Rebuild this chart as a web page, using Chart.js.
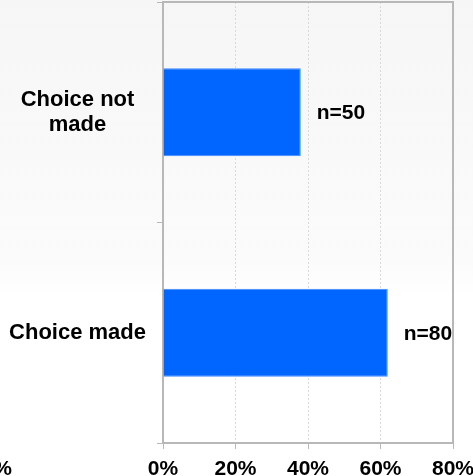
<!DOCTYPE html>
<html>
<head>
<meta charset="utf-8">
<script src="https://cdn.jsdelivr.net/npm/chart.js@4/dist/chart.umd.min.js"></script>
<style>
  html, body { margin: 0; padding: 0; background: #ffffff; }
  #wrap { width: 473px; height: 476px; position: relative; }
</style>
</head>
<body>
<div id="wrap"><canvas id="c" width="473" height="476"></canvas></div>
<script>
// ---- data ----
const categories = [['Choice not', 'made'], 'Choice made'];
const shares = [38, 62];            // percent of respondents
const sampleLabels = ['n=50', 'n=80'];
const xTicks = [0, 20, 40, 60, 80];
const strayText = '%';

const FONT = "'Liberation Sans', Arial, sans-serif";

const bgPlugin = {
  id: 'bg',
  beforeDraw(chart) {
    const ctx = chart.ctx;
    const g = ctx.createLinearGradient(0, 0, 0, chart.height);
    g.addColorStop(0, '#f6f6f6');
    g.addColorStop(0.55, '#fbfbfb');
    g.addColorStop(0.62, '#ffffff');
    g.addColorStop(1, '#ffffff');
    ctx.save();
    ctx.fillStyle = g;
    ctx.fillRect(0, 0, chart.width, chart.height);
    ctx.restore();
  }
};

const framePlugin = {
  id: 'frame',
  afterDraw(chart) {
    const { ctx, chartArea: a } = chart;
    ctx.save();
    ctx.strokeStyle = '#b8b8b8';
    ctx.lineWidth = 2;
    ctx.beginPath();
    ctx.moveTo(a.left, a.top);
    ctx.lineTo(a.right, a.top);
    ctx.lineTo(a.right, a.bottom);
    ctx.stroke();
    // stray cut-off label at the bottom left
    ctx.fillStyle = '#000';
    ctx.font = 'bold 21px ' + FONT;
    ctx.textAlign = 'right';
    ctx.textBaseline = 'alphabetic';
    ctx.fillText(strayText, 12, 475);
    ctx.restore();
  }
};

const labelPlugin = {
  id: 'nlabels',
  afterDatasetsDraw(chart) {
    const ctx = chart.ctx;
    const meta = chart.getDatasetMeta(0);
    ctx.save();
    ctx.fillStyle = '#000';
    ctx.font = 'bold 21px ' + FONT;
    ctx.textAlign = 'left';
    ctx.textBaseline = 'middle';
    meta.data.forEach((bar, i) => {
      ctx.fillText(sampleLabels[i], bar.x + 16, bar.y + 1);
    });
    ctx.restore();
  }
};

function zeroPad(scale) {
  scale.paddingTop = 0; scale.paddingBottom = 0;
  scale.paddingLeft = 0; scale.paddingRight = 0;
}

new Chart(document.getElementById('c'), {
  type: 'bar',
  data: {
    labels: categories,
    datasets: [{
      data: shares,
      backgroundColor: '#0066ff',
      borderColor: '#3d8bff',
      borderWidth: 1,
      categoryPercentage: 1,
      barPercentage: 0.4
    }]
  },
  options: {
    indexAxis: 'y',
    responsive: false,
    animation: false,
    events: [],
    layout: { padding: { top: 2, right: 20, left: 0, bottom: 0 }, autoPadding: false },
    plugins: { legend: { display: false }, tooltip: { enabled: false } },
    scales: {
      x: {
        min: 0, max: 80,
        afterBuildTicks(scale) { scale.ticks = xTicks.map(v => ({ value: v })); },
        afterFit(scale) { scale.height = 33; zeroPad(scale); },
        ticks: {
          callback: v => v + '%',
          color: '#000',
          font: { family: FONT, size: 21, weight: 'bold' },
          padding: 8,
          maxRotation: 0
        },
        grid: {
          color: ctx => (ctx.index === 4 ? '#b8b8b8' : '#d9d9d9'),
          lineWidth: 1,
          drawTicks: true,
          tickLength: 6,
          tickColor: '#b8b8b8'
        },
        border: {
          color: '#b8b8b8',
          width: 2,
          dash: ctx => (ctx.index === 0 || ctx.index === 4 ? [] : [2, 2])
        }
      },
      y: {
        afterFit(scale) { scale.width = 163; zeroPad(scale); },
        offset: true,
        ticks: {
          color: '#000',
          font: { family: FONT, size: 22, weight: 'bold', lineHeight: 1.15 },
          crossAlign: 'center',
          padding: 11
        },
        grid: {
          offset: true,
          drawOnChartArea: false,
          drawTicks: true,
          tickLength: 6,
          color: '#b8b8b8'
        },
        border: { color: '#b8b8b8', width: 2 }
      }
    }
  },
  plugins: [bgPlugin, labelPlugin, framePlugin]
});
</script>
</body>
</html>
